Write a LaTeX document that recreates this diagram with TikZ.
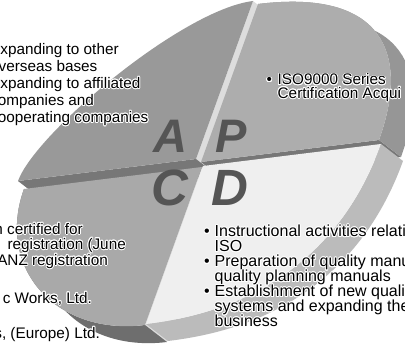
\documentclass[tikz,border=0pt]{standalone}
\usepackage{fontspec}
\setmainfont{Liberation Sans}
\usepackage{contour}
\contourlength{0.8pt}
\definecolor{faceA}{HTML}{999999}
\definecolor{faceP}{HTML}{ADADAD}
\definecolor{faceC}{HTML}{A9A9A9}
\definecolor{faceD}{HTML}{EFEFEF}
\definecolor{wallLight}{HTML}{DDDDDD}
\definecolor{wallDark}{HTML}{777777}
\definecolor{rimP}{HTML}{969696}
\definecolor{rimC}{HTML}{6E6E6E}
\definecolor{rimD}{HTML}{BBBBBB}
\definecolor{letter}{HTML}{555555}
\def\hu{0.1654}
\def\hv{0.1306}
\newcommand{\hl}[1]{\contour{white}{#1}}
\tikzset{
  txt/.style={inner sep=0pt, text=black, font=\fontsize{15.3}{17}\selectfont},
  txtbig/.style={inner sep=0pt, text=black, font=\fontsize{16}{15}\selectfont},
  bigAP/.style={inner sep=0pt, anchor=base, text=letter, font=\fontsize{47}{47}\selectfont\bfseries\itshape},
  bigCD/.style={inner sep=0pt, anchor=base, text=letter, font=\fontsize{51}{51}\selectfont\bfseries\itshape},
}
\begin{document}
\begin{tikzpicture}[x=1pt,y=-1pt]
\useasboundingbox (0,0) rectangle (405,345);
\clip (0,0) rectangle (405,345);
\fill[white] (0,0) rectangle (405,345);
% ---- PDCA disc (affine frame: u along e1, v along e2) ----
\begin{scope}[shift={(200,164)}, x={(178pt,22pt)}, y={(-57pt,-158pt)}]
  % A quadrant (back)
  \begin{scope}[shift={(-4pt,5pt)}]
    \fill[wallLight] (0,0) -- (0,-1) -- (\hu,-1+\hv) -- (\hu,\hv) -- cycle;
    \fill[wallDark] (0,0) -- (-1,0) -- (-1+\hu,\hv) -- (\hu,\hv) -- cycle;
    \fill[faceA] (0,0) -- (-1,0) .. controls (-1,-0.3) and (-0.4,-1) .. (0,-1) -- cycle;
  \end{scope}
  % P quadrant
  \begin{scope}[shift={(1pt,2pt)}]
    \fill[wallDark] (0,0) -- (1,0) -- (1+\hu,\hv) -- (\hu,\hv) -- cycle;
    \fill[rimP] (0,-1) .. controls (0.7,-1) and (1,-0.55) .. (1,0)
      -- (1+\hu,\hv) .. controls (1+\hu,-0.55+\hv) and (0.7+\hu,-1+\hv) .. (\hu,-1+\hv) -- cycle;
    \fill[faceP] (0,0) -- (0,-1) .. controls (0.7,-1) and (1,-0.55) .. (1,0) -- cycle;
  \end{scope}
  % C quadrant
  \begin{scope}[shift={(2pt,-3pt)}]
    \fill[wallLight] (0,0) -- (0,1) -- (\hu,1+\hv) -- (\hu,\hv) -- cycle;
    \fill[rimC] (0,1) .. controls (-0.5,1) and (-1,0.5) .. (-1,0)
      -- (-1+\hu,\hv) .. controls (-1+\hu,0.5+\hv) and (-0.5+\hu,1+\hv) .. (\hu,1+\hv) -- cycle;
    \fill[faceC] (0,0) -- (0,1) .. controls (-0.5,1) and (-1,0.5) .. (-1,0) -- cycle;
  \end{scope}
  % D quadrant (front)
  \begin{scope}[shift={(3pt,-2pt)}]
    \fill[rimD] (1,0) .. controls (1,0.95) and (0.3,1) .. (0,1)
      -- (\hu,1+\hv) .. controls (0.3+\hu,1+\hv) and (1+\hu,0.95+\hv) .. (1+\hu,\hv) -- cycle;
    \fill[faceD] (0,0) -- (1,0) .. controls (1,0.95) and (0.3,1) .. (0,1) -- cycle;
  \end{scope}
\end{scope}
% ---- letters ----
\node[bigAP] (lA) at (170,153) {A};
\node[bigAP] (lP) at (231,153) {P};
\node[bigCD] (lC) at (170,205) {C};
\node[bigCD] (lD) at (230,205) {D};
% ---- texts ----
\node[txt, anchor=base west] (tl) at (-10,54.3) {\vtop{\baselineskip=17.05pt\lineskiplimit=-50pt
  \hbox{\hl{Expanding to other}}
  \hbox{\hl{overseas bases}}
  \hbox{\hl{Expanding to affiliated}}
  \hbox{\hl{companies and}}
  \hbox{\hl{cooperating companies}}}};
\node[txt, anchor=base west] (tr) at (266.5,85) {\vtop{\baselineskip=13.3pt\lineskiplimit=-50pt
  \hbox{\hl{\makebox[11pt][l]{•}ISO9000 Series}}
  \hbox{\hspace{11pt}\hl{Certification Acqui}}}};
\node[txtbig, anchor=base west] (br) at (204,236.7) {\vtop{\baselineskip=15pt\lineskiplimit=-50pt
  \hbox{\hl{\makebox[10.5pt][l]{•}Instructional activities relati}}
  \hbox{\hspace{10.5pt}\hl{ISO}}
  \hbox{\hl{\makebox[10.5pt][l]{•}Preparation of quality manu}}
  \hbox{\hspace{10.5pt}\hl{quality planning manuals}}
  \hbox{\hl{\makebox[10.5pt][l]{•}Establishment of new quali}}
  \hbox{\hspace{10.5pt}\hl{systems and expanding the}}
  \hbox{\hspace{10.5pt}\hl{business}}}};
\node[txt, anchor=base east] (bl1) at (83,234.3) {\hl{n certified for}};
\node[txt, anchor=base east] (bl2) at (126,249.3) {\hl{registration (June}};
\node[txt, anchor=base east] (bl3) at (108,265.3) {\hl{ANZ registration}};
\node[txt, anchor=base east] (bl4) at (92,303.3) {\hl{c Works, Ltd.}};
\node[txt, anchor=base east] (bl5) at (100,338.3) {\hl{s, (Europe) Ltd.}};
\end{tikzpicture}
\end{document}
